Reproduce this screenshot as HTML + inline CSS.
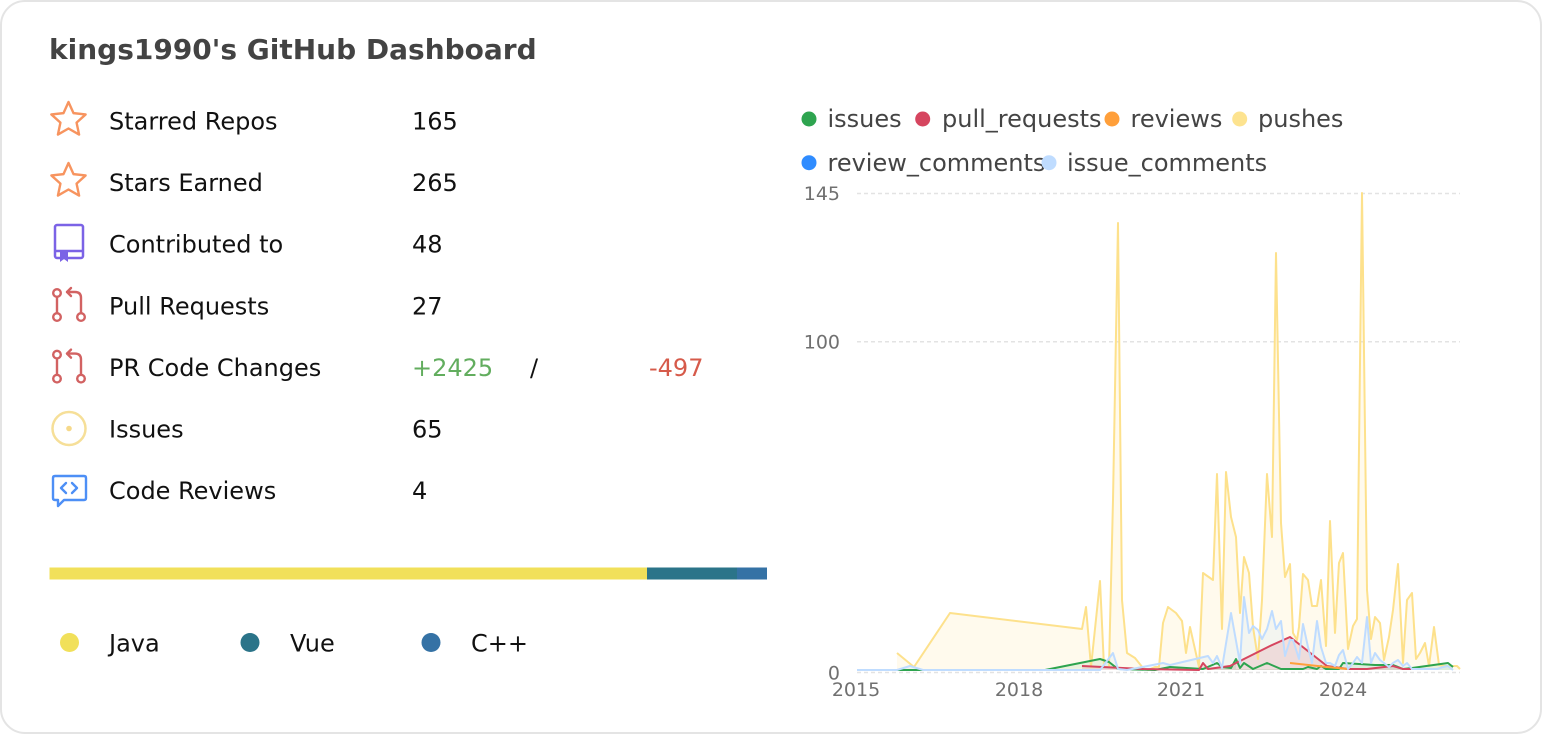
<!DOCTYPE html>
<html><head><meta charset="utf-8"><style>
html,body{margin:0;padding:0;background:#fff;}
svg{display:block;}
text{font-family:"DejaVu Sans","Liberation Sans",sans-serif;}
</style></head><body>
<svg width="1542" height="734" viewBox="0 0 1542 734" xmlns="http://www.w3.org/2000/svg">
<rect x="1" y="1" width="1540" height="732" rx="24" fill="#fff" stroke="#e4e4e4" stroke-width="2"/>
<text x="49" y="59" font-size="28" font-weight="bold" fill="#434343">kings1990's GitHub Dashboard</text>

<!-- stars -->
<g fill="none" stroke="#f7945f" stroke-width="2.4" stroke-linejoin="round">
<path transform="translate(68.5,120)" d="M0,-18 L5,-6.88 L17.12,-5.56 L8.08,2.63 L10.58,14.56 L0,8.5 L-10.58,14.56 L-8.08,2.63 L-17.12,-5.56 L-5,-6.88 Z"/>
<path transform="translate(68.5,181)" d="M0,-18 L5,-6.88 L17.12,-5.56 L8.08,2.63 L10.58,14.56 L0,8.5 L-10.58,14.56 L-8.08,2.63 L-17.12,-5.56 L-5,-6.88 Z"/>
</g>
<!-- book -->
<g stroke="#7b63e6" stroke-width="2.5" fill="none">
<rect x="55" y="225" width="28" height="33" rx="2"/>
<line x1="55" y1="251" x2="83" y2="251"/>
</g>
<polygon points="60,251 68,251 68,262 64,259 60,262" fill="#7b63e6"/>
<!-- PR icons -->
<g fill="none" stroke="#d26262" stroke-width="2.4" stroke-linecap="round" stroke-linejoin="round">
<g>
<circle cx="57" cy="293" r="3.8"/><circle cx="57" cy="317" r="3.8"/><circle cx="81" cy="317" r="3.8"/>
<line x1="57" y1="297" x2="57" y2="313"/>
<path d="M81,313 L81,298 Q81,292 75,292 L67,292"/>
<path d="M71,288 L67,292 L71,296"/>
</g>
<g transform="translate(0,61.6)">
<circle cx="57" cy="293" r="3.8"/><circle cx="57" cy="317" r="3.8"/><circle cx="81" cy="317" r="3.8"/>
<line x1="57" y1="297" x2="57" y2="313"/>
<path d="M81,313 L81,298 Q81,292 75,292 L67,292"/>
<path d="M71,288 L67,292 L71,296"/>
</g>
</g>
<!-- issue icon -->
<circle cx="69" cy="428.5" r="16.5" fill="none" stroke="#f6df98" stroke-width="2.5"/>
<circle cx="69" cy="428.5" r="2.8" fill="#f6d98a"/>
<!-- code review icon -->
<g fill="none" stroke="#4d8ff6" stroke-width="2.4" stroke-linejoin="round" stroke-linecap="round">
<path d="M55,476 L84,476 Q86,476 86,478 L86,498 Q86,500 84,500 L64,500 L58,506 L58,500 L55,500 Q53,500 53,498 L53,478 Q53,476 55,476 Z"/>
<path d="M66,483 L61,488 L66,493"/>
<path d="M72,483 L77,488 L72,493"/>
</g>

<g font-size="24" fill="#111">
<text x="109" y="129.5">Starred Repos</text><text x="412" y="129.5">165</text>
<text x="109" y="191.1">Stars Earned</text><text x="412" y="191.1">265</text>
<text x="109" y="252.7">Contributed to</text><text x="412" y="252.7">48</text>
<text x="109" y="314.3">Pull Requests</text><text x="412" y="314.3">27</text>
<text x="109" y="375.9">PR Code Changes</text>
<text x="412" y="375.9" fill="#62ad5e">+2425</text>
<text x="530" y="375.9">/</text>
<text x="649" y="375.9" fill="#d65a4a">-497</text>
<text x="109" y="437.5">Issues</text><text x="412" y="437.5">65</text>
<text x="109" y="499.1">Code Reviews</text><text x="412" y="499.1">4</text>
</g>

<!-- language bar -->
<rect x="49.5" y="567.5" width="597.5" height="12" fill="#f1e05a"/>
<rect x="647" y="567.5" width="90" height="12" fill="#2b7489"/>
<rect x="737" y="567.5" width="30" height="12" fill="#3572a5"/>
<circle cx="69.5" cy="642.5" r="9.5" fill="#f1e05a"/>
<circle cx="250" cy="642.5" r="9.5" fill="#2b7489"/>
<circle cx="431" cy="642.5" r="9.5" fill="#3572a5"/>
<g font-size="24" fill="#111">
<text x="109" y="651.5">Java</text>
<text x="290" y="651.5">Vue</text>
<text x="471" y="651.5">C++</text>
</g>

<!-- chart legend -->
<g font-size="24" fill="#444">
<circle cx="809" cy="119" r="7.5" fill="#2ea44f"/><text x="827.5" y="127">issues</text>
<circle cx="922.7" cy="119" r="7.5" fill="#d6455f"/><text x="942" y="127">pull_requests</text>
<circle cx="1112" cy="119" r="7.5" fill="#ff9f3a"/><text x="1130.5" y="127">reviews</text>
<circle cx="1239.7" cy="119" r="7.5" fill="#fde38f"/><text x="1258" y="127">pushes</text>
<circle cx="809" cy="162.7" r="7.5" fill="#2f8cff"/><text x="827.5" y="171">review_comments</text>
<circle cx="1049" cy="162.7" r="7.5" fill="#bfdcff"/><text x="1067" y="171">issue_comments</text>
</g>

<!-- grid -->
<g stroke="#e3e3e3" stroke-width="1.5" stroke-dasharray="4 3">
<line x1="857" y1="193.5" x2="1460" y2="193.5"/>
<line x1="857" y1="341.7" x2="1460" y2="341.7"/>
<line x1="857" y1="672.5" x2="1460" y2="672.5"/>
</g>
<g font-size="19" fill="#707070" text-anchor="end">
<text x="840" y="200">145</text>
<text x="840" y="348.5">100</text>
<text x="840" y="679.5">0</text>
</g>
<g font-size="19" fill="#707070" text-anchor="middle">
<text x="856" y="696">2015</text>
<text x="1019" y="696">2018</text>
<text x="1181" y="696">2021</text>
<text x="1343" y="696">2024</text>
</g>

<!-- pushes -->
<polygon fill="rgba(255,224,140,0.16)" points="897,670 897,653 914,667 950,613 1082,629 1086,607 1091,667 1100,581 1104,667 1109,667 1113,500 1118,223 1122,600 1127,653 1135,658 1143,668 1148,670 1155,667 1159,667 1163,623 1168,607 1176,613 1182,621 1186,653 1190,627 1199,667 1203,573 1213,580 1217,474 1222,629 1226,472 1231,517 1236,537 1240,613 1244,557 1249,573 1253,627 1258,659 1262,600 1267,474 1272,537 1276,253 1281,523 1285,577 1290,564 1293,633 1297,640 1299,627 1303,574 1308,580 1312,606 1317,606 1321,580 1326,646 1330,521 1335,633 1339,563 1343,553 1348,649 1353,626 1357,619 1362,193 1367,590 1371,639 1375,617 1380,623 1384,660 1389,637 1393,610 1398,564 1403,663 1407,600 1412,593 1416,659 1420,653 1425,643 1429,666 1434,627 1439,665 1444,666 1457,666 1460,669 1460,670"/>
<!-- issue_comments fill -->
<polygon fill="rgba(191,220,255,0.18)" points="857,670 897,670 910,666 923,670 1100,670 1113,653 1118,669 1127,670 1163,663 1170,665 1208,656 1213,663 1217,656 1222,668 1231,613 1240,663 1244,597 1249,633 1253,626 1258,630 1262,639 1267,629 1272,611 1276,629 1281,621 1285,656 1290,640 1293,640 1299,659 1303,624 1308,647 1312,663 1317,621 1321,647 1326,663 1330,663 1335,666 1339,655 1343,650 1348,669 1353,663 1357,657 1362,663 1367,617 1371,663 1375,653 1380,660 1384,663 1389,667 1393,663 1398,660 1403,666 1407,663 1412,669 1437,669 1443,667 1448,666 1453,670"/>
<!-- red fill -->
<polygon fill="rgba(214,69,95,0.14)" points="1082,670 1082,666 1143,669 1199,670 1203,663 1208,669 1230,666 1270,646 1290,637 1327,666 1348,669 1367,669 1393,666 1403,669 1411,669 1411,670"/>
<!-- green fill -->
<polygon fill="rgba(46,164,79,0.10)" points="857,670 1045,670 1070,665 1100,659 1109,662 1118,669 1155,670 1453,670 1453,667 1448,663 1412,668 1403,669 1393,665 1375,665 1343,663 1339,669 1236,669 1236,659 1231,668"/>

<g fill="none" stroke-width="2" stroke-linejoin="round">
<polyline stroke="#fde18c" points="897,653 914,667 950,613 1082,629 1086,607 1091,667 1100,581 1104,667 1109,667 1113,500 1118,223 1122,600 1127,653 1135,658 1143,668 1148,670 1155,667 1159,667 1163,623 1168,607 1176,613 1182,621 1186,653 1190,627 1199,667 1203,573 1213,580 1217,474 1222,629 1226,472 1231,517 1236,537 1240,613 1244,557 1249,573 1253,627 1258,659 1262,600 1267,474 1272,537 1276,253 1281,523 1285,577 1290,564 1293,633 1297,640 1299,627 1303,574 1308,580 1312,606 1317,606 1321,580 1326,646 1330,521 1335,633 1339,563 1343,553 1348,649 1353,626 1357,619 1362,193 1367,590 1371,639 1375,617 1380,623 1384,660 1389,637 1393,610 1398,564 1403,663 1407,600 1412,593 1416,659 1420,653 1425,643 1429,666 1434,627 1439,665 1444,666 1457,666 1460,669"/>
<polyline stroke="#2ea44f" points="857,670 1045,670 1070,665 1100,659 1109,662 1118,669 1155,670 1170,667 1203,669 1217,663 1222,667 1231,668 1236,659 1240,668 1244,663 1253,669 1267,663 1281,669 1303,669 1308,667 1317,669 1321,666 1326,669 1339,669 1343,663 1375,665 1393,665 1403,669 1412,668 1448,663 1453,667"/>
<polyline stroke="#d6455f" points="1082,666 1143,669 1199,670 1203,663 1208,669 1230,666 1270,646 1290,637 1327,666 1348,669 1367,669 1393,666 1403,669 1411,669"/>
<polyline stroke="#ff9f3a" points="1290,663 1327,667 1348,669"/>
<polyline stroke="#bfdcff" points="857,670 897,670 910,666 923,670 1100,670 1113,653 1118,669 1127,670 1163,663 1170,665 1208,656 1213,663 1217,656 1222,668 1231,613 1240,663 1244,597 1249,633 1253,626 1258,630 1262,639 1267,629 1272,611 1276,629 1281,621 1285,656 1290,640 1293,640 1299,659 1303,624 1308,647 1312,663 1317,621 1321,647 1326,663 1330,663 1335,666 1339,655 1343,650 1348,669 1353,663 1357,657 1362,663 1367,617 1371,663 1375,653 1380,660 1384,663 1389,667 1393,663 1398,660 1403,666 1407,663 1412,669 1437,669 1443,667 1448,666 1453,670"/>
</g>
</svg>
</body></html>
